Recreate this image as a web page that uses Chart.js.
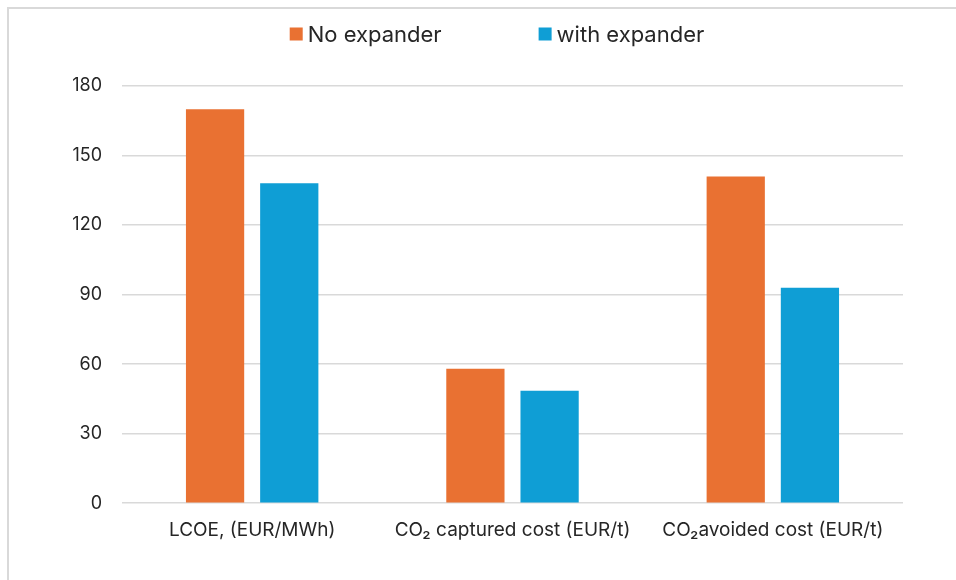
<!DOCTYPE html>
<html>
<head>
<meta charset="utf-8">
<script src="https://cdn.jsdelivr.net/npm/chart.js@4"></script>
<style>
  html, body { margin: 0; padding: 0; background: #fff; overflow: hidden; }
  #frame {
    position: absolute; left: 7px; top: 7px; width: 1000px; height: 620px;
    border-left: 2px solid #d9d9d9; border-top: 2px solid #d9d9d9;
  }
  #wrap { position: absolute; left: 0; top: 0; width: 956px; height: 580px; }
</style>
</head>
<body>
<div id="frame"></div>
<div id="wrap"><canvas id="chart"></canvas></div>
<script>
// Cost figures per configuration
const categories = ['LCOE, (EUR/MWh)', 'CO\u2082 captured cost (EUR/t)', 'CO\u2082avoided cost (EUR/t)'];
const noExpander = [170, 58, 141];
const withExpander = [138, 48.5, 93];
const yTicks = [0, 30, 60, 90, 120, 150, 180];
const seriesNames = ['No expander', 'with expander'];
const seriesColors = ['#E97132', '#0F9ED5'];

const FONT = 'Inter, "Noto Sans", sans-serif';
const TEXT = '#262626';

// Legend row drawn above the plot: square swatch followed by the series name
const topLegend = {
  id: 'topLegend',
  afterDraw(chart) {
    const ctx = chart.ctx;
    const size = 22, box = 13, gapText = 5, gapItem = 97, centerX = 497, centerY = 34;
    ctx.save();
    ctx.font = `${size}px ${FONT}`;
    const widths = chart.data.datasets.map(d => ctx.measureText(d.label).width);
    let total = 0;
    widths.forEach((w, i) => { total += box + gapText + w + (i < widths.length - 1 ? gapItem : 0); });
    let x = centerX - total / 2;
    chart.data.datasets.forEach((d, i) => {
      ctx.fillStyle = d.backgroundColor;
      ctx.fillRect(x, centerY - box / 2, box, box);
      ctx.fillStyle = TEXT;
      ctx.textBaseline = 'middle';
      ctx.textAlign = 'left';
      ctx.fillText(d.label, x + box + gapText, centerY + 1);
      x += box + gapText + widths[i] + gapItem;
    });
    ctx.restore();
  }
};

new Chart(document.getElementById('chart'), {
  type: 'bar',
  data: {
    labels: categories,
    datasets: [
      { label: seriesNames[0], data: noExpander, backgroundColor: seriesColors[0] },
      { label: seriesNames[1], data: withExpander, backgroundColor: seriesColors[1] }
    ]
  },
  options: {
    responsive: true,
    maintainAspectRatio: false,
    animation: false,
    devicePixelRatio: 1,
    layout: { padding: { top: 86, right: 53, bottom: 30, left: 0 } },
    datasets: { bar: { categoryPercentage: 0.57, barPercentage: 0.785 } },
    plugins: { legend: { display: false }, tooltip: { enabled: false } },
    scales: {
      x: {
        grid: { display: false },
        border: { display: false },
        ticks: { color: TEXT, font: { family: FONT, size: 19 }, padding: 8, maxRotation: 0 }
      },
      y: {
        min: 0, max: 180,
        afterBuildTicks: s => { s.ticks = yTicks.map(v => ({ value: v })); },
        afterFit: s => { s.width = 122; },
        grid: { color: '#d9d9d9', lineWidth: 1.5, drawTicks: false },
        border: { display: false },
        ticks: { color: TEXT, font: { family: FONT, size: 18 }, padding: 20 }
      }
    }
  },
  plugins: [topLegend]
});
</script>
</body>
</html>
